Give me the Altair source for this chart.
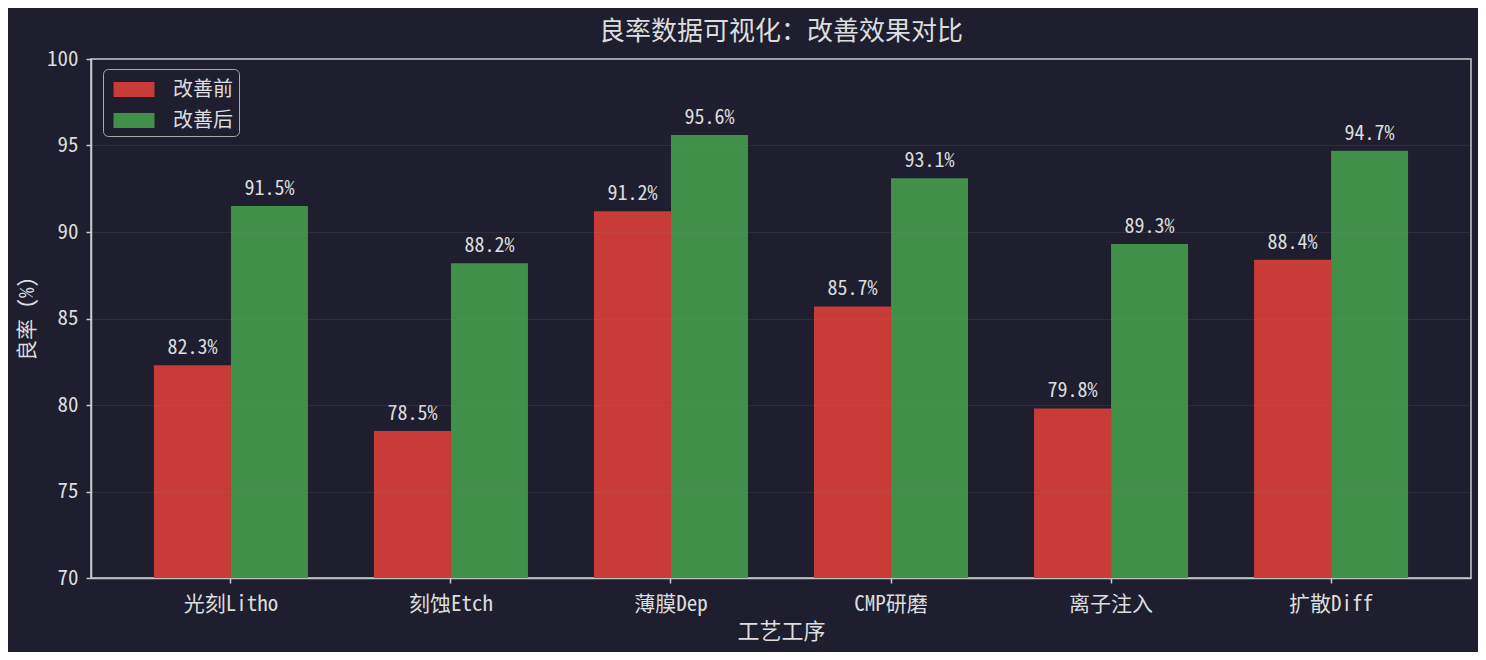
import altair as alt
import pandas as pd

processes = ["光刻Litho", "刻蚀Etch", "薄膜Dep", "CMP研磨", "离子注入", "扩散Diff"]
before = [82.3, 78.5, 91.2, 85.7, 79.8, 88.4]
after = [91.5, 88.2, 95.6, 93.1, 89.3, 94.7]
series = ["改善前", "改善后"]
colors = ["#c83b36", "#40904a"]

rows = []
for p, b, a in zip(processes, before, after):
    rows.append({"工序": p, "组": series[0], "良率": b, "label": f"{b:.1f}%"})
    rows.append({"工序": p, "组": series[1], "良率": a, "label": f"{a:.1f}%"})
df = pd.DataFrame(rows)

FONT = "Noto Sans Mono CJK SC, Noto Sans CJK SC, DejaVu Sans Mono, monospace"
TXT = "#dddddd"
AX = "#cccccc"

x = alt.X("工序:N", sort=processes, title="工艺工序",
          scale=alt.Scale(paddingInner=0.3, paddingOuter=0.286),
          axis=alt.Axis(labelAngle=0, labelFont=FONT, labelFontSize=21, labelColor=TXT,
                        titleFont=FONT, titleFontSize=22, titleColor=TXT, titleFontWeight="normal",
                        titlePadding=7, tickColor=AX, domainColor=AX, domainWidth=1.5,
                        tickSize=5, tickWidth=1.5, labelPadding=10, grid=False))
y = alt.Y("良率:Q", title="良率 (%)",
          scale=alt.Scale(domain=[70, 100], nice=False, zero=False, clamp=True),
          axis=alt.Axis(values=[70, 75, 80, 85, 90, 95, 100], labelFont=FONT, labelFontSize=21,
                        labelColor=TXT, titleFont=FONT, titleFontSize=21, titleColor=TXT,
                        titleFontWeight="normal", titlePadding=9, tickColor=AX,
                        domainColor=AX, domainWidth=1.5, tickSize=5, tickWidth=1.5, labelPadding=8,
                        gridColor="#888888", gridOpacity=0.15, zindex=1))
xo = alt.XOffset("组:N", sort=series, scale=alt.Scale(paddingInner=0, paddingOuter=0))

bars = alt.Chart(df).mark_bar().encode(
    x=x, y=y, xOffset=xo,
    color=alt.Color("组:N", sort=series, scale=alt.Scale(domain=series, range=colors),
                    legend=alt.Legend(title=None, orient="none", legendX=12, legendY=10,
                                      fillColor="#1e1e2e", strokeColor="#aaaaaa",
                                      cornerRadius=5, padding=5.5,
                                      labelFont=FONT, labelFontSize=20, labelColor=TXT,
                                      symbolType="M-1.4,-0.51H1.4V0.51H-1.4Z", symbolSize=858,
                                      symbolStrokeWidth=0, symbolOpacity=1, symbolOffset=10.5,
                                      rowPadding=6, labelOffset=24)),
)

labels = alt.Chart(df).mark_text(font=FONT, fontSize=20, color=TXT, baseline="alphabetic", dy=-11).encode(
    x=alt.X("工序:N", sort=processes), y="良率:Q", xOffset=xo, text="label:N"
)

chart = alt.layer(bars, labels).properties(
    width=1380, height=519,
    title=alt.TitleParams("良率数据可视化：改善效果对比", font=FONT, fontSize=26, color=TXT,
                          fontWeight="normal", anchor="middle", offset=3),
    background="#1e1e2e",
    autosize=alt.AutoSizeParams(type="none"),
    padding={"left": 83, "top": 51, "right": 7, "bottom": 74},
).configure_view(stroke=AX, strokeWidth=1.5)

chart.save("out.html", embed_options={"renderer": "svg", "actions": False})
